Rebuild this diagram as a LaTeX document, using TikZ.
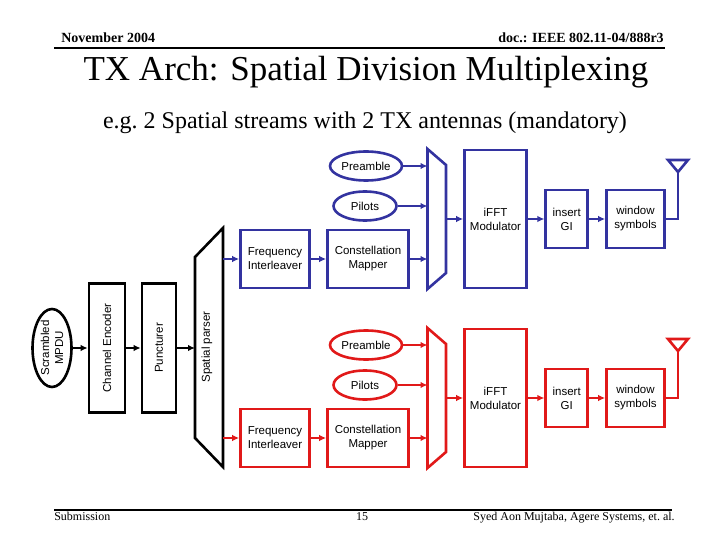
\documentclass[tikz,border=0pt]{standalone}
\usepackage{fontspec}
\setmainfont{Liberation Serif}
\setsansfont{Liberation Sans}
\usetikzlibrary{shapes.geometric,arrows.meta}
\definecolor{strmblue}{RGB}{51,51,160}
\definecolor{strmred}{RGB}{225,25,25}

\begin{document}
\begin{tikzpicture}[x=1pt, y=-1pt, line width=2.6pt,
  every node/.style={font=\sffamily\fontsize{11.5}{14}\selectfont, align=center, inner sep=0pt},
  blk/.style={draw, rectangle},
  oval/.style={draw, ellipse},
  arr/.style={-{Latex[length=7pt,width=6.5pt]}}]
\useasboundingbox (0,0) rectangle (720,540);
% header and footer
\node[font=\rmfamily\bfseries\fontsize{14}{16}\selectfont, anchor=base west] (hdl) at (60,43) {November 2004};
\node[font=\rmfamily\bfseries\fontsize{14}{16}\selectfont, anchor=base east] (hdr) at (665,43) {doc.: IEEE 802.11-04/888r3};
\draw (54,48) -- (665,48);
\node[font=\rmfamily\fontsize{35}{40}\selectfont, anchor=base] (ttl) at (366,81) {TX Arch: Spatial Division Multiplexing};
\node[font=\rmfamily\fontsize{24}{28}\selectfont, anchor=base] (sub) at (365,129) {e.g.\ 2 Spatial streams with 2 TX antennas (mandatory)};
\draw (54,510) -- (672,510);
\node[font=\rmfamily\fontsize{12}{14}\selectfont, anchor=base west] (ftl) at (53,520) {Submission};
\node[font=\rmfamily\fontsize{12}{14}\selectfont, anchor=base] (ftc) at (362,520) {15};
\node[font=\rmfamily\fontsize{12}{14}\selectfont, anchor=base east] (ftr) at (676,520) {Syed Aon Mujtaba, Agere Systems, et.\ al.};

% common chain
\node[oval, rotate=90, minimum width=78, minimum height=39] (mpdu) at (52,348) {Scrambled\\MPDU};
\node[blk, rotate=90, minimum width=129, minimum height=36] (enc) at (107,348) {Channel Encoder};
\node[blk, rotate=90, minimum width=129, minimum height=34] (punc) at (159,348) {Puncturer};
\draw (195,257) -- (223,228) -- (223,467) -- (195,438) -- cycle;
\node[rotate=90] (spp) at (207,347) {Spatial parser};
\coordinate (spin) at (195,348);
\coordinate (spo1) at (223,259);
\coordinate (spo2) at (223,438);
\draw[arr] (mpdu) -- (enc); \draw[arr] (enc) -- (punc); \draw[arr] (punc) -- (spin);

% stream 1
\begin{scope}[strmblue, nodes={text=black}]
\node[oval, minimum width=72, minimum height=29] (pre1) at (366,166) {Preamble};
\node[oval, minimum width=63, minimum height=29] (pil1) at (365,206) {Pilots};
\node[blk, minimum width=69, minimum height=58] (fi1) at (275,259) {Frequency\\Interleaver};
\node[blk, minimum width=81, minimum height=58] (cm1) at (368,259) {Constellation\\Mapper};
\draw (427.5,149) -- (446,165) -- (446,273) -- (427.5,289) -- cycle;
\coordinate (m1a) at (427.5,166); \coordinate (m1b) at (427.5,206); \coordinate (m1c) at (427.5,259); \coordinate (m1o) at (446,219);
\node[blk, minimum width=62, minimum height=138] (fft1) at (495.5,219) {iFFT\\Modulator};
\node[blk, minimum width=42, minimum height=58] (gi1) at (566.7,219) {insert\\GI};
\node[blk, minimum width=58, minimum height=58] (ws1) at (635.5,219) {window\\symbols};
\draw (668,160) -- (688,160) -- (678,172) -- cycle; \coordinate (ant1) at (678,172);
\draw[arr] (spo1) -- (fi1); \draw[arr] (fi1) -- (cm1); \draw[arr] (cm1) -- (m1c); \draw[arr] (pre1) -- (m1a); \draw[arr] (pil1) -- (m1b);
\draw[arr] (m1o) -- (fft1); \draw[arr] (fft1) -- (gi1); \draw[arr] (gi1) -- (ws1); \draw (ws1) -| (ant1);
\end{scope}

% stream 2
\begin{scope}[strmred, nodes={text=black}]
\node[oval, minimum width=72, minimum height=29] (pre2) at (366,345) {Preamble};
\node[oval, minimum width=63, minimum height=29] (pil2) at (365,385) {Pilots};
\node[blk, minimum width=69, minimum height=58] (fi2) at (275,438) {Frequency\\Interleaver};
\node[blk, minimum width=81, minimum height=58] (cm2) at (368,438) {Constellation\\Mapper};
\draw (427.5,328) -- (446,344) -- (446,452) -- (427.5,468) -- cycle;
\coordinate (m2a) at (427.5,345); \coordinate (m2b) at (427.5,385); \coordinate (m2c) at (427.5,438); \coordinate (m2o) at (446,398);
\node[blk, minimum width=62, minimum height=138] (fft2) at (495.5,398) {iFFT\\Modulator};
\node[blk, minimum width=42, minimum height=58] (gi2) at (566.7,398) {insert\\GI};
\node[blk, minimum width=58, minimum height=58] (ws2) at (635.5,398) {window\\symbols};
\draw (668,339) -- (688,339) -- (678,351) -- cycle; \coordinate (ant2) at (678,351);
\draw[arr] (spo2) -- (fi2); \draw[arr] (fi2) -- (cm2); \draw[arr] (cm2) -- (m2c); \draw[arr] (pre2) -- (m2a); \draw[arr] (pil2) -- (m2b);
\draw[arr] (m2o) -- (fft2); \draw[arr] (fft2) -- (gi2); \draw[arr] (gi2) -- (ws2); \draw (ws2) -| (ant2);
\end{scope}
\end{tikzpicture}
\end{document}
